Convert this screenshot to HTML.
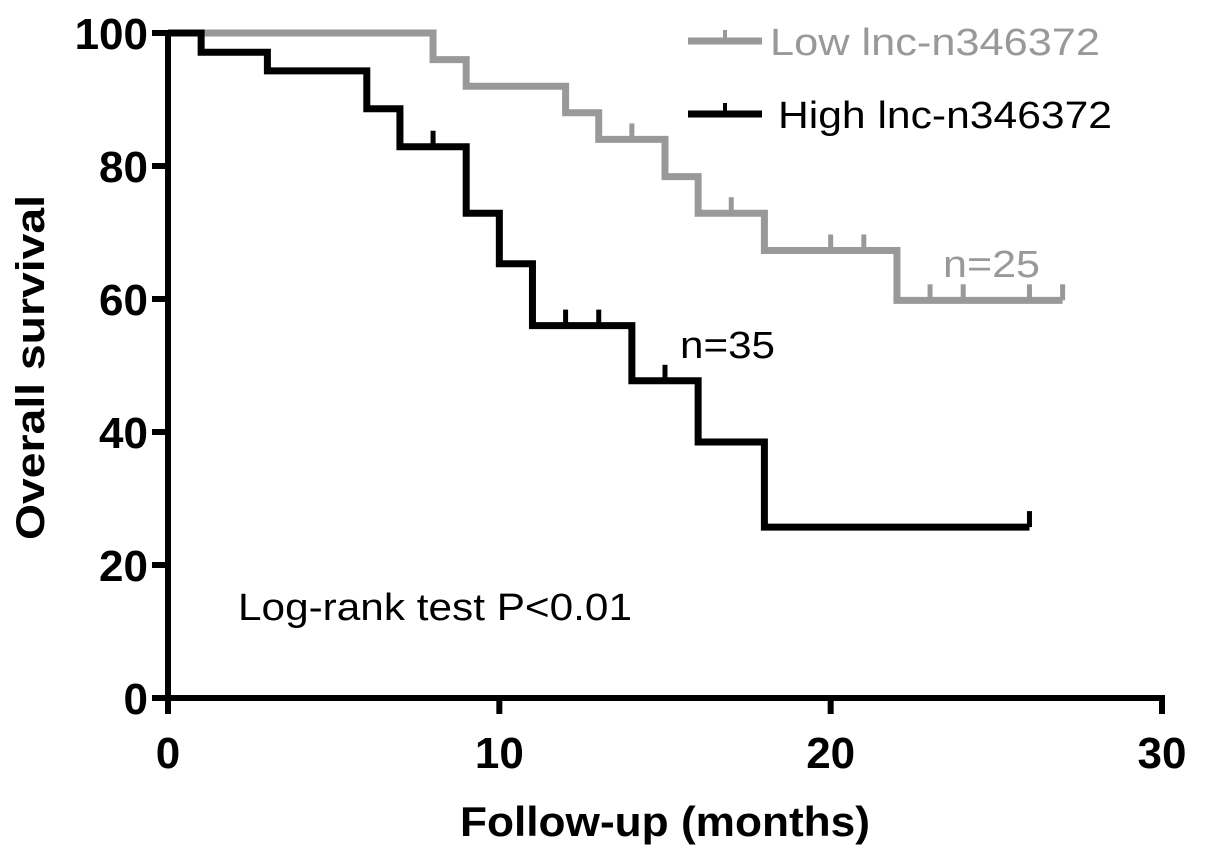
<!DOCTYPE html>
<html><head><meta charset="utf-8"><style>
body{margin:0;background:#fff}
svg{font-family:"Liberation Sans",Arial,sans-serif}
</style></head><body>
<svg id="chart" width="1205" height="857" viewBox="0 0 1205 857" xmlns="http://www.w3.org/2000/svg">
<g id="axes"></g>
<g id="series"></g>
<g>
 <line x1="688" y1="41" x2="762" y2="41" stroke="#999" stroke-width="7"/>
 <line x1="725" y1="41" x2="725" y2="30" stroke="#999" stroke-width="4"/>
 <text x="770" y="55" font-size="38" textLength="330" lengthAdjust="spacingAndGlyphs" fill="#999">Low lnc-n346372</text>
 <line x1="688" y1="114" x2="762" y2="114" stroke="#000" stroke-width="7"/>
 <line x1="725" y1="114" x2="725" y2="103" stroke="#000" stroke-width="4"/>
 <text x="778" y="128" font-size="38" textLength="334" lengthAdjust="spacingAndGlyphs" fill="#000">High lnc-n346372</text>
</g>
<text x="943" y="277" font-size="38" textLength="97" lengthAdjust="spacingAndGlyphs" fill="#999">n=25</text>
<text x="680" y="358" font-size="38" textLength="95" lengthAdjust="spacingAndGlyphs" fill="#000">n=35</text>
<text x="238" y="620" font-size="38" textLength="394" lengthAdjust="spacingAndGlyphs" fill="#000">Log-rank test P&lt;0.01</text>
<text x="460" y="836" font-size="42" font-weight="bold" textLength="410" lengthAdjust="spacingAndGlyphs">Follow-up (months)</text>
<text transform="translate(44,540) rotate(-90)" font-size="40" font-weight="bold" textLength="345" lengthAdjust="spacingAndGlyphs">Overall survival</text>
</svg>
<script>
const xTicks=[0,10,20,30];
const yTicks=[0,20,40,60,80,100];
const lowTimes=[0,8,9,12,13,15,16,18,22,27];
const lowSurv=[100,96,92,88,84,78.4,72.9,67.3,59.8,59.8];
const lowCensorT=[14,17,20,21,23,24,26,27];
const highTimes=[0,1,3,6,7,9,10,11,14,16,18,26];
const highSurv=[100,97.1,94.3,88.6,82.9,72.9,65.3,56,47.7,38.5,25.7,25.7];
const highCensorT=[8,12,13,15,26];

const X0=168,X1=1162,Y0=698,Y1=33;
const xs=v=>X0+v*(X1-X0)/30;
const ys=v=>Y0-v*(Y0-Y1)/100;
const NS="http://www.w3.org/2000/svg";
function mk(tag,attrs,parent){const e=document.createElementNS(NS,tag);for(const k in attrs)e.setAttribute(k,attrs[k]);parent.appendChild(e);return e;}
const axes=document.getElementById('axes');
let a=mk('line',{x1:X0,y1:Y0,x2:X1+3,y2:Y0,stroke:'#000','stroke-width':6},axes);

a=mk('line',{x1:X0,y1:Y0+3,x2:X0,y2:Y1-3,stroke:'#000','stroke-width':6},axes);

xTicks.forEach(t=>{
 const l=mk('line',{x1:xs(t),y1:Y0,x2:xs(t),y2:Y0+16,stroke:'#000','stroke-width':6},axes);
 
 const tx=mk('text',{x:xs(t),y:Y0+70,'font-size':44,'font-weight':'bold','text-anchor':'middle'},axes);
 tx.textContent=t;
 
});
yTicks.forEach(t=>{
 const l=mk('line',{x1:X0-16,y1:ys(t),x2:X0,y2:ys(t),stroke:'#000','stroke-width':6},axes);
 
 const tx=mk('text',{x:X0-20,y:ys(t)+16,'font-size':44,'font-weight':'bold','text-anchor':'end'},axes);
 tx.textContent=t;
 
});
const ser=document.getElementById('series');
function survAt(T,S,t){let s=S[0];for(let i=0;i<T.length;i++)if(T[i]<=t)s=S[i];return s;}
function drawCurve(T,S,C,color,name){
 let d='M'+xs(T[0])+','+ys(S[0]);
 for(let i=1;i<T.length;i++){d+=' H'+xs(T[i])+' V'+ys(S[i]);}
 const p=mk('path',{d:d,fill:'none',stroke:color,'stroke-width':7,'stroke-linejoin':'miter'},ser);
 
 C.forEach(t=>{
  const y=ys(survAt(T,S,t));
  const l=mk('line',{x1:xs(t),y1:y,x2:xs(t),y2:y-16,stroke:color,'stroke-width':5},ser);
  
 });
}
drawCurve(lowTimes,lowSurv,lowCensorT,'#999','low');
drawCurve(highTimes,highSurv,highCensorT,'#000','high');
</script>
</body></html>
